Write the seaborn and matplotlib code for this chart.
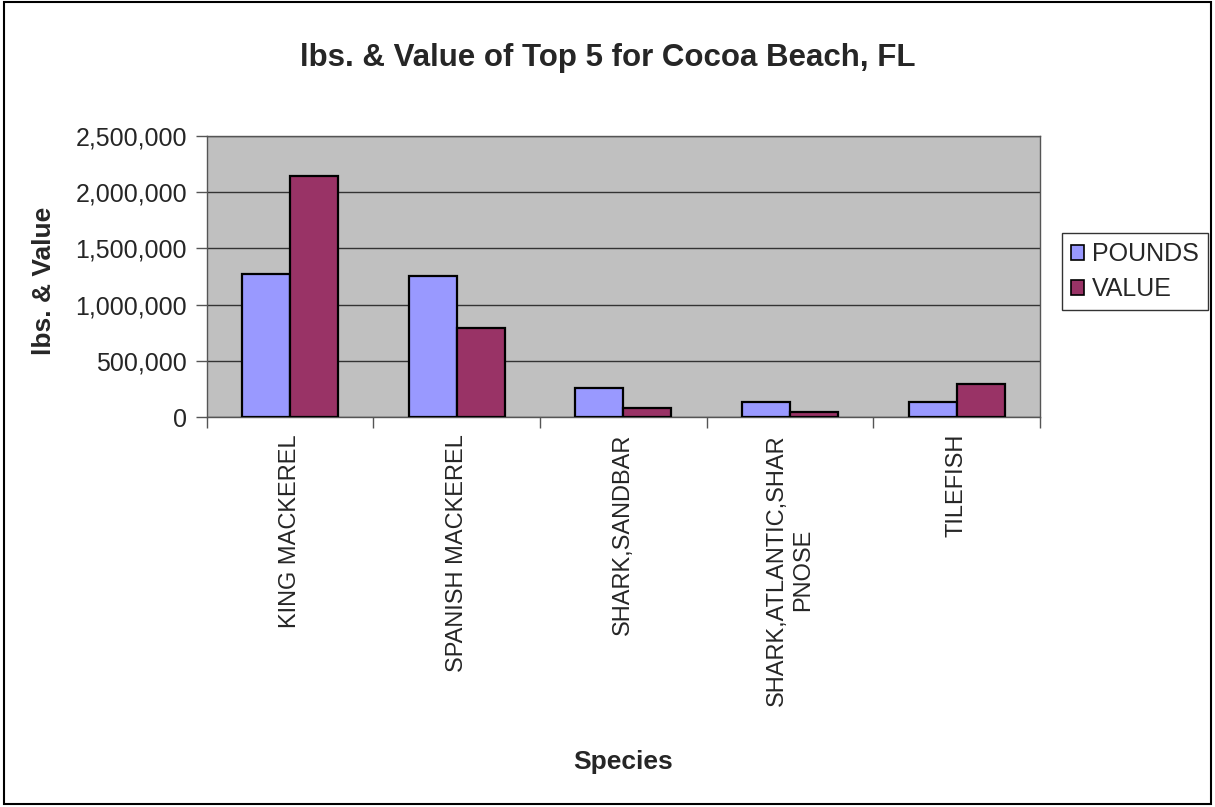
import matplotlib
matplotlib.use("Agg")
import matplotlib.pyplot as plt
import matplotlib.ticker as mticker
from matplotlib.patches import Rectangle
import seaborn as sns
import pandas as pd

# Landings for Cocoa Beach, FL: top five species
species = [
    "KING MACKEREL",
    "SPANISH MACKEREL",
    "SHARK,SANDBAR",
    "SHARK,ATLANTIC,SHAR\nPNOSE",
    "TILEFISH",
]
pounds = [1272000, 1257000, 264000, 133000, 133000]
value = [2147000, 792000, 83000, 44000, 296000]
series = ["POUNDS", "VALUE"]
colors = ["#9999FF", "#993366"]
y_ticks = [0, 500000, 1000000, 1500000, 2000000, 2500000]

df = pd.DataFrame({
    "Species": species * 2,
    "Amount": pounds + value,
    "Series": [series[0]] * len(species) + [series[1]] * len(species),
})

sns.set_theme(style="white")
plt.rcParams["font.family"] = ["Liberation Sans", "DejaVu Sans"]

fig = plt.figure(figsize=(12.15, 8.07), dpi=100)
ax = fig.add_axes([0.170, 0.483, 0.686, 0.3485])
ax.set_facecolor("#C0C0C0")

sns.barplot(
    data=df, x="Species", y="Amount", hue="Series",
    palette=dict(zip(series, colors)), order=species, hue_order=series,
    width=0.576, gap=0, saturation=1, edgecolor="black", linewidth=1.6,
    errorbar=None, ax=ax, legend=False, zorder=3,
)

ax.set_xlim(-0.5, len(species) - 0.5)
ax.set_ylim(0, 2500000)
ax.set_yticks(y_ticks)
ax.yaxis.set_major_formatter(mticker.StrMethodFormatter("{x:,.0f}"))
ax.grid(axis="y", color="#333333", linewidth=1.0, zorder=0)
ax.set_axisbelow(True)

for s in ax.spines.values():
    s.set_color("#555555")
    s.set_linewidth(1.0)

# tick marks sit between categories on the x axis
ax.set_xticks(range(len(species)))
ax.set_xticklabels(species, rotation=90, fontsize=17, ha="center", va="top",
                   multialignment="center")
ax.set_xticks([i - 0.5 for i in range(len(species) + 1)], minor=True)
ax.tick_params(axis="x", which="major", length=0, pad=12)
ax.tick_params(axis="x", which="minor", length=8, width=1, color="#555555",
               direction="out", bottom=True)
ax.tick_params(axis="y", length=8, width=1, color="#555555", direction="out",
               left=True, labelsize=18, pad=6)

ax.set_xlabel("")
ax.set_ylabel("")
fig.text(0.0366, 0.652, "lbs. & Value", rotation=90, ha="center", va="center",
         fontsize=19, fontweight="bold")
fig.text(0.5125, 0.056, "Species", ha="center", va="center",
         fontsize=19, fontweight="bold")
fig.text(0.5, 0.928, "lbs. & Value of Top 5 for Cocoa Beach, FL", ha="center",
         va="center", fontsize=22.5, fontweight="bold")

handles = [Rectangle((0, 0), 1, 1, facecolor=c, edgecolor="black", linewidth=1.2)
           for c in colors]
leg = fig.legend(handles, series, loc="upper left",
                 bbox_to_anchor=(0.874, 0.711), fontsize=18,
                 frameon=True, fancybox=False, handlelength=0.55,
                 handleheight=0.55, handletextpad=0.3, borderpad=0.35,
                 labelspacing=0.45, borderaxespad=0)
leg.get_frame().set_edgecolor("black")
leg.get_frame().set_linewidth(1.0)

fig.patches.append(Rectangle((0.003, 0.004), 0.994, 0.993, transform=fig.transFigure,
                             fill=False, edgecolor="black", linewidth=1.5))

fig.savefig("out.png", dpi=100, facecolor="white")
